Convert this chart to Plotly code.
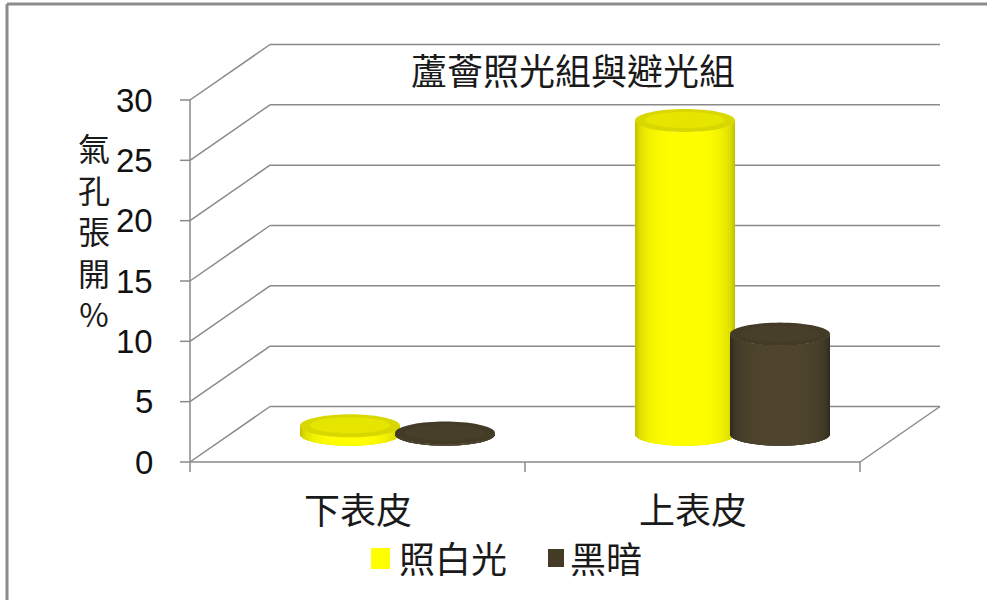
import numpy as np
import plotly.graph_objects as go

# ---- data ----
categories = ["下表皮", "上表皮"]
series_names = ["照白光", "黑暗"]
light_values = [0.7, 26.0]
dark_values = [0.1, 8.3]
y_ticks = [0, 5, 10, 15, 20, 25, 30]
chart_title = "蘆薈照光組與避光組"
y_title = "氣孔張開%"

series_values = [light_values, dark_values]
series_rgb = [(255, 255, 0), (80, 70, 47)]
series_falloff = [0.30, 0.45]

# ---- page / projection geometry ----
W, H = 987, 600
FRONT_LEFT_PX, FRONT_RIGHT_PX = 190, 860
ZERO_PX, TOP_PX = 462, 100
PX_PER_CAT = (FRONT_RIGHT_PX - FRONT_LEFT_PX) / len(categories)
PX_PER_VAL = (ZERO_PX - TOP_PX) / y_ticks[-1]

DEPTH_X = 80 / PX_PER_CAT           # wall depth in category units
DEPTH_Y = 55.5 / PX_PER_VAL         # wall depth in value units
RADIUS = 50 / PX_PER_CAT            # cylinder radius (horizontal)
ELL_B = 11.5 / PX_PER_VAL           # cylinder ellipse half-height
PAIR_OFFSET = 47.5 / PX_PER_CAT     # distance of each cylinder from category centre

x_range = [(0 - FRONT_LEFT_PX) / PX_PER_CAT, (W - FRONT_LEFT_PX) / PX_PER_CAT]
y_range = [(ZERO_PX - H) / PX_PER_VAL, ZERO_PX / PX_PER_VAL]

n_cat = len(categories)
GRID = "#8a8a8a"

shapes = []
annotations = []


def line(x0, y0, x1, y1, color=GRID, width=1.5):
    shapes.append(dict(type="line", xref="x", yref="y", x0=x0, y0=y0, x1=x1, y1=y1,
                       line=dict(color=color, width=width), layer="below"))


def poly(pts, color):
    d = "M " + " L ".join(f"{px:.5f},{py:.5f}" for px, py in pts) + " Z"
    shapes.append(dict(type="path", xref="x", yref="y", path=d, fillcolor=color,
                       line=dict(width=0), layer="above"))


def rgb(c, k):
    return "rgb({},{},{})".format(*[int(max(0, min(255, v * k))) for v in c])


# ---- walls, floor and gridlines ----
for t in y_ticks:
    line(0, t, DEPTH_X, t + DEPTH_Y)                           # side wall
    line(DEPTH_X, t + DEPTH_Y, n_cat + DEPTH_X, t + DEPTH_Y)   # back wall
line(0, 0, n_cat, 0)                                           # floor front edge
line(n_cat, 0, n_cat + DEPTH_X, DEPTH_Y)                       # floor right edge
line(0, 0, 0, y_ticks[-1])                                     # value axis
for t in y_ticks:
    shapes.append(dict(type="line", xref="x", yref="y", x0=-10, x1=0, y0=t, y1=t,
                       xsizemode="pixel", xanchor=0, layer="below",
                       line=dict(color=GRID, width=1.5)))
for i in range(n_cat + 1):
    shapes.append(dict(type="line", xref="x", yref="y", x0=i, x1=i, y0=-10, y1=0,
                       ysizemode="pixel", yanchor=0, layer="below",
                       line=dict(color=GRID, width=1.5)))

# ---- tick labels ----
for t in y_ticks:
    annotations.append(dict(x=0, y=t, xref="x", yref="y", text=str(t), showarrow=False,
                            xanchor="right", yanchor="middle", xshift=-35,
                            font=dict(family="Liberation Sans, Arial", size=33, color="#111")))

# ---- cylinders ----
N_SLICES = 40
theta = np.linspace(np.pi, 0, N_SLICES + 1)
for i in range(n_cat):
    centre = i + 0.5 + DEPTH_X / 2
    base = DEPTH_Y / 2
    for s, vals in enumerate(series_values):
        cx = centre + (2 * s - 1) * PAIR_OFFSET
        top = base + vals[i]
        col = series_rgb[s]
        # whole body underneath the shaded strips
        body = [(cx + RADIUS * np.cos(a), top - ELL_B * np.sin(a)) for a in theta]
        body += [(cx + RADIUS * np.cos(a), base - ELL_B * np.sin(a)) for a in theta[::-1]]
        poly(body, rgb(col, 0.85))
        for k in range(N_SLICES):
            a0 = theta[k]
            a1 = theta[min(k + 2, N_SLICES)]   # overlap the next strip to hide seams
            am = 0.5 * (theta[k] + theta[k + 1])
            # side shading: bright face, darker near the silhouette
            shade = 1 - series_falloff[s] * (1 - np.sin(am)) ** 1.4
            xa, xb = cx + RADIUS * np.cos(a0), cx + RADIUS * np.cos(a1)
            pts = [(xa, top - ELL_B * np.sin(a0)), (xb, top - ELL_B * np.sin(a1)),
                   (xb, base - ELL_B * np.sin(a1)), (xa, base - ELL_B * np.sin(a0))]
            poly(pts, rgb(col, shade))
        # top face
        phi = np.linspace(0, 2 * np.pi, 73)
        poly([(cx + RADIUS * np.cos(p), top + ELL_B * np.sin(p)) for p in phi],
             rgb(col, 0.85))
        poly([(cx + 0.8 * RADIUS * np.cos(p), top + 0.05 * ELL_B + 0.7 * ELL_B * np.sin(p))
              for p in phi], rgb(col, 0.9))

# ---- category labels ----
CJK = "Noto Sans CJK TC, Noto Sans CJK SC, sans-serif"
for i, c in enumerate(categories):
    annotations.append(dict(x=i + 0.5, y=1 - 508 / H, xref="x", yref="paper", text=c,
                            showarrow=False, xanchor="center", yanchor="middle",
                            font=dict(family=CJK, size=36, color="#1a1a1a")))

# ---- title ----
annotations.append(dict(x=573 / W, y=1 - 69 / H, xref="paper", yref="paper", text=chart_title,
                        showarrow=False, xanchor="center", yanchor="middle",
                        font=dict(family=CJK, size=36, color="#1a1a1a")))

# ---- value-axis title, one character per line ----
annotations.append(dict(x=94 / W, y=1 - 230 / H, xref="paper", yref="paper",
                        text="<br>".join(list(y_title)), showarrow=False,
                        xanchor="center", yanchor="middle", align="center",
                        font=dict(family=CJK, size=32, color="#1a1a1a")))

# ---- legend ----
legend_boxes = [(371, 548, 390, 569), (548, 549, 564, 567)]
legend_text_x = [397, 568]
for s, name in enumerate(series_names):
    x0, y0, x1, y1 = legend_boxes[s]
    shapes.append(dict(type="rect", xref="paper", yref="paper", x0=x0 / W, x1=x1 / W,
                       y0=1 - y1 / H, y1=1 - y0 / H,
                       fillcolor=rgb(series_rgb[s], 1.0 if s == 0 else 0.85),
                       line=dict(width=0)))
    annotations.append(dict(x=legend_text_x[s] / W, y=1 - 557 / H, xref="paper", yref="paper",
                            text=name, showarrow=False, xanchor="left", yanchor="middle",
                            font=dict(family=CJK, size=36, color="#1a1a1a")))

# ---- chart frame ----
shapes.append(dict(type="line", xref="paper", yref="paper", x0=7 / W, x1=1, y0=1 - 4 / H, y1=1 - 4 / H,
                   line=dict(color="#8c8c8c", width=3)))
shapes.append(dict(type="line", xref="paper", yref="paper", x0=7 / W, x1=7 / W, y0=0, y1=1 - 4 / H,
                   line=dict(color="#8c8c8c", width=3)))

fig = go.Figure()
fig.update_layout(
    width=W, height=H,
    margin=dict(l=0, r=0, t=0, b=0),
    paper_bgcolor="white", plot_bgcolor="white",
    showlegend=False,
    xaxis=dict(range=x_range, visible=False, fixedrange=True),
    yaxis=dict(range=y_range, visible=False, fixedrange=True),
    shapes=shapes,
    annotations=annotations,
)
fig.write_html("out.html")
